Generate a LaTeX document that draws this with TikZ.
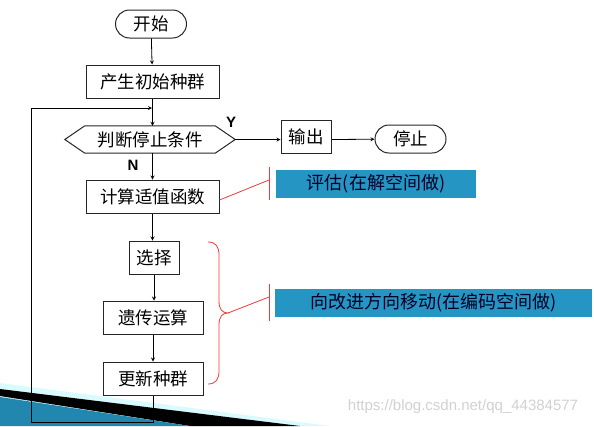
\documentclass[tikz,border=0pt]{standalone}
\usepackage{fontspec}
\setmainfont{Liberation Sans}
\newfontfamily\cjk{Noto Sans CJK SC}
\usetikzlibrary{arrows}

\definecolor{boxblue}{HTML}{2596C3}
\definecolor{bracered}{HTML}{EE3B3B}

\begin{document}
\begin{tikzpicture}[x=1pt,y=-1pt,>=stealth,
  every node/.style={font=\cjk\fontsize{17.5}{19}\selectfont},
  box/.style={draw=black!85,line width=1pt,minimum height=33pt,inner sep=0pt},
  term/.style={box,rounded corners=14pt,minimum height=28pt,minimum width=71pt},
  note/.style={fill=boxblue,text=black!85!blue,inner sep=0pt,minimum height=28pt,font=\cjk\fontsize{18}{20}\selectfont},
  link/.style={->,line width=0.8pt},
  redline/.style={bracered,line width=0.8pt}]
\useasboundingbox (0,0) rectangle (594,426);

% template stripes at the bottom
\fill[blue!10!cyan!15] (0,383) -- (330,426) -- (0,426) -- cycle;
\fill[black] (0,389) -- (300,426) -- (190,426) -- (0,396) -- cycle;
\fill[boxblue!90!black] (0,397) -- (190,426) -- (0,426) -- cycle;

\node[term] (start) at (151,24) {开始};
\node[box,minimum width=133pt] (init) at (152.5,81.5) {产生初始种群};
\node[minimum width=130pt,minimum height=27pt,inner sep=0pt] (judge) at (150,139.5) {判断停止条件};
\draw[line width=1pt,black!85] (judge.north west) -- (judge.north east) -- ([xshift=20pt]judge.east)
  -- (judge.south east) -- (judge.south west) -- ([xshift=-20pt]judge.west) -- cycle;
\coordinate (judgeR) at ([xshift=20pt]judge.east);
\node[box,minimum width=50pt] (out) at (306,137) {输出};
\node[term] (stop) at (410.5,139) {停止};
\node[box,minimum width=133pt] (fit) at (152.5,196.5) {计算适值函数};
\node[box,minimum width=50pt] (sel) at (154,257.5) {选择};
\node[box,minimum width=100pt] (gen) at (153,317.5) {遗传运算};
\node[box,minimum width=100pt] (upd) at (153,378.5) {更新种群};

\node[font=\bfseries\fontsize{15}{17}\selectfont] (yes) at (231,122) {Y};
\node[font=\bfseries\fontsize{15}{17}\selectfont] (no) at (133,165) {N};

\draw[link] (start) -- (init);
\draw[link] (init) -- (judge.north -| init);
\draw[link] (judgeR) -- (out.west |- judgeR);
\draw[link] (out.east |- judgeR) -- (stop);
\draw[link] (judge.south -| fit) -- (fit);
\draw[link] (fit) -- (sel.north -| fit);
\draw[link] (sel) -- (gen.north -| sel);
\draw[link] (gen) -- (upd);

\coordinate (loopB) at (153,422);
\coordinate (loopL) at (31,422);
\coordinate (loopT) at (31,108);
\coordinate (loopE) at (152,108);
\draw[link] (upd) -- (loopB) -- (loopL) -- (loopT) -- (loopE);

% notes on the right
\node[note,minimum width=200pt] (eval) at (376,183.5) {评估(在解空间做)};
\node[note,minimum width=317pt] (move) at (433.5,303) {向改进方向移动(在编码空间做)};

\coordinate (tick1) at (269,180);
\draw[redline] (fit.east |- 0,200) -- (tick1);
\draw[redline] (269,167) -- (269,200);

\coordinate (tip2) at (228,313);
\coordinate (tick2) at (269,297);
\draw[redline] (208,242) .. controls (216,242) and (219,247) .. (219,255) -- (219,301)
  .. controls (219,309) and (222,313) .. (tip2)
  .. controls (222,313) and (219,317) .. (219,325) -- (219,371)
  .. controls (219,379) and (216,384) .. (208,384);
\draw[redline] (tip2) -- (tick2);
\draw[redline] (269,284) -- (269,321);

\node[font=\fontsize{15}{17}\selectfont,text=black!18] (wm) at (463,407) {https://blog.csdn.net/qq\_44384577};
\end{tikzpicture}
\end{document}
